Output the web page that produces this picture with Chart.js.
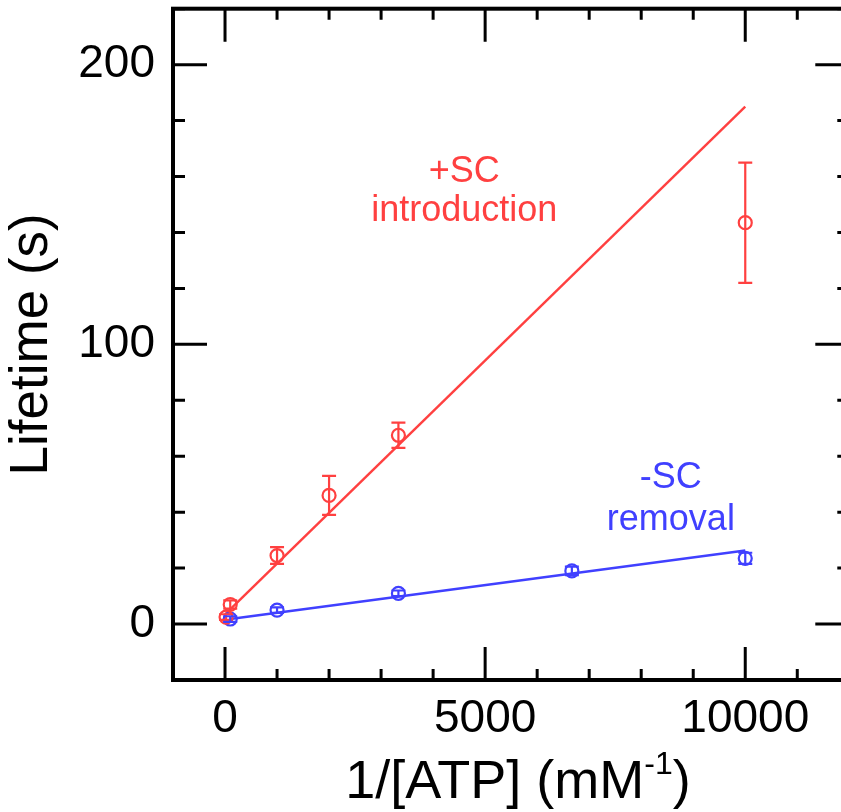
<!DOCTYPE html>
<html>
<head>
<meta charset="utf-8">
<script src="https://cdn.jsdelivr.net/npm/chart.js@4.4.1/dist/chart.umd.min.js"></script>
<style>
  html, body { margin: 0; padding: 0; background: #fff; overflow: hidden; width: 841px; height: 812px; }
  #wrap { width: 841px; height: 812px; overflow: hidden; position: relative; }
  #myChart { position: absolute; left: 0; top: 0; }
</style>
</head>
<body>
<div id="wrap"><canvas id="myChart" width="858" height="812"></canvas></div>
<script>
// values
var introX = [20, 100, 1000, 2000, 3333, 10000];
var introY = [2.5, 7, 24.5, 46, 67.5, 143.5];
var introErr = [1, 1.5, 3, 7, 4.5, 21.5];
var removalX = [100, 1000, 3333, 6667, 10000];
var removalY = [1.8, 5, 11, 19, 23.5];
var removalErr = [1, 1, 1, 1.5, 2];
// fitted lines, end points
var introFitX = [0, 10000];
var introFitY = [3.5, 185];
var removalFitX = [100, 10000];
var removalFitY = [1.8, 26.3];

var xTicks = [0, 5000, 10000];
var yTicks = [0, 100, 200];

var red = 'rgb(255, 64, 64)';
var blue = 'rgb(64, 64, 255)';
var font = '"Liberation Sans", Arial, sans-serif';

function pts(xs, ys) {
    return xs.map(function (x, i) { return { x: x, y: ys[i] }; });
}

// frame with inward ticks on all four sides
var framePlugin = {
    id: 'frame',
    afterDatasetsDraw: function (chart) {
        var ctx = chart.ctx, a = chart.chartArea;
        var xs = chart.scales.x, ys = chart.scales.y;
        ctx.save();
        ctx.strokeStyle = '#000';
        ctx.lineCap = 'butt';
        ctx.lineWidth = 3;
        for (var v = -1000; v <= 12000; v += 1000) {
            var px = xs.getPixelForValue(v);
            var len = (v % 5000 === 0) ? 33 : 11;
            ctx.beginPath();
            ctx.moveTo(px, a.bottom); ctx.lineTo(px, a.bottom - len);
            ctx.moveTo(px, a.top); ctx.lineTo(px, a.top + len);
            ctx.stroke();
        }
        for (var w = -20; w <= 220; w += 20) {
            var py = ys.getPixelForValue(w);
            var l2 = (w % 100 === 0) ? 34 : 12;
            ctx.beginPath();
            ctx.moveTo(a.left, py); ctx.lineTo(a.left + l2, py);
            ctx.moveTo(a.right, py); ctx.lineTo(a.right - l2, py);
            ctx.stroke();
        }
        ctx.lineWidth = 4;
        ctx.strokeRect(a.left, a.top, a.right - a.left, a.bottom - a.top);
        ctx.restore();
    }
};

// error bars from the err arrays
var errorPlugin = {
    id: 'errbars',
    afterDatasetsDraw: function (chart) {
        var ctx = chart.ctx;
        var xs = chart.scales.x, ys = chart.scales.y;
        chart.data.datasets.forEach(function (ds) {
            if (!ds.err) return;
            ctx.save();
            ctx.strokeStyle = ds.borderColor;
            ctx.lineWidth = 2.2;
            ds.data.forEach(function (p, i) {
                var px = xs.getPixelForValue(p.x);
                var top = ys.getPixelForValue(p.y + ds.err[i]);
                var bot = ys.getPixelForValue(p.y - ds.err[i]);
                ctx.beginPath();
                ctx.moveTo(px, top); ctx.lineTo(px, bot);
                ctx.moveTo(px - 7, top); ctx.lineTo(px + 7, top);
                ctx.moveTo(px - 7, bot); ctx.lineTo(px + 7, bot);
                ctx.stroke();
            });
            ctx.restore();
        });
    }
};

// text: annotations and x title with superscript
var textPlugin = {
    id: 'texts',
    afterDraw: function (chart) {
        var ctx = chart.ctx;
        var xs = chart.scales.x, ys = chart.scales.y;
        ctx.save();
        ctx.textAlign = 'center';
        ctx.textBaseline = 'alphabetic';
        ctx.font = '36px ' + font;
        ctx.fillStyle = red;
        var cx = xs.getPixelForValue(4600);
        ctx.fillText('+SC', cx, ys.getPixelForValue(158));
        ctx.fillText('introduction', cx, ys.getPixelForValue(144));
        ctx.fillStyle = blue;
        cx = xs.getPixelForValue(8570);
        ctx.fillText('-SC', cx, ys.getPixelForValue(48.8));
        ctx.fillText('removal', cx, ys.getPixelForValue(33.8));

        // x axis title
        ctx.fillStyle = '#000';
        ctx.textAlign = 'left';
        var big = '54px ' + font, small = '32px ' + font;
        var p1 = '1/[ATP] (mM', p2 = '-1', p3 = ')';
        ctx.font = big; var w1 = ctx.measureText(p1).width, w3 = ctx.measureText(p3).width;
        ctx.font = small; var w2 = ctx.measureText(p2).width;
        var total = w1 + w2 + w3;
        var x0 = 518 - total / 2, base = 798;
        ctx.font = big; ctx.fillText(p1, x0, base);
        ctx.font = small; ctx.fillText(p2, x0 + w1, base - 24);
        ctx.font = big; ctx.fillText(p3, x0 + w1 + w2, base);
        ctx.restore();
    }
};

var ctx = document.getElementById('myChart').getContext('2d');
var chart = new Chart(ctx, {
    type: 'scatter',
    data: {
        datasets: [{
            label: '+SC introduction',
            data: pts(introX, introY),
            err: introErr,
            borderColor: red,
            backgroundColor: 'rgba(0,0,0,0)',
            pointRadius: 6.5,
            pointBorderWidth: 2.2
        }, {
            label: '-SC removal',
            data: pts(removalX, removalY),
            err: removalErr,
            borderColor: blue,
            backgroundColor: 'rgba(0,0,0,0)',
            pointRadius: 6.5,
            pointBorderWidth: 2.2
        }, {
            label: 'intro fit',
            data: pts(introFitX, introFitY),
            showLine: true,
            borderColor: red,
            borderWidth: 2.4,
            pointRadius: 0
        }, {
            label: 'removal fit',
            data: pts(removalFitX, removalFitY),
            showLine: true,
            borderColor: blue,
            borderWidth: 2.4,
            pointRadius: 0
        }]
    },
    options: {
        responsive: false,
        animation: false,
        devicePixelRatio: 1,
        layout: { padding: { top: 8, right: 3, left: 0, bottom: 0 } },
        plugins: {
            legend: { display: false },
            tooltip: { enabled: false }
        },
        scales: {
            x: {
                type: 'linear',
                min: -1000,
                max: 12000,
                grid: { display: false, drawTicks: false },
                border: { display: false },
                afterBuildTicks: function (s) { s.ticks = xTicks.map(function (v) { return { value: v }; }); },
                afterFit: function (s) {
                    s.height = 132;
                    s.paddingLeft = 0; s.paddingRight = 0;
                },
                ticks: {
                    padding: 12,
                    color: '#000',
                    maxRotation: 0,
                    autoSkip: false,
                    callback: function (v) { return String(v); },
                    font: { family: font, size: 46 }
                }
            },
            y: {
                type: 'linear',
                min: -20,
                max: 220,
                grid: { display: false, drawTicks: false },
                border: { display: false },
                afterBuildTicks: function (s) { s.ticks = yTicks.map(function (v) { return { value: v }; }); },
                afterFit: function (s) {
                    s.width = 173;
                    s.paddingTop = 0; s.paddingBottom = 0;
                },
                title: {
                    display: true,
                    text: 'Lifetime (s)',
                    color: '#000',
                    padding: { top: 1, bottom: 0 },
                    font: { family: font, size: 53 }
                },
                ticks: {
                    padding: 18,
                    color: '#000',
                    autoSkip: false,
                    callback: function (v) { return String(v); },
                    font: { family: font, size: 46 }
                }
            }
        }
    },
    plugins: [framePlugin, errorPlugin, textPlugin]
});
</script>
</body>
</html>
